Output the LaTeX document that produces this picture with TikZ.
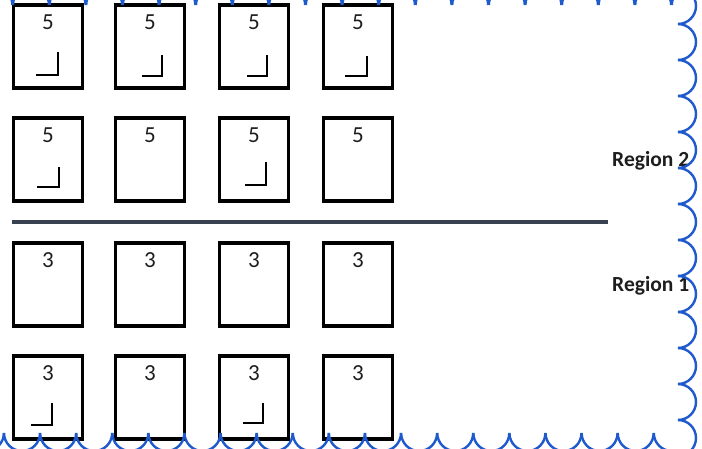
\documentclass[tikz,border=0pt]{standalone}
\usepackage{fontspec}
\setmainfont{Carlito}
\usetikzlibrary{calc}
\definecolor{scallopblue}{RGB}{30,90,205}
\definecolor{divider}{RGB}{55,65,80}
\definecolor{ink}{RGB}{30,30,30}
\begin{document}
\begin{tikzpicture}[x=1pt,y=-1pt,
  cell/.style={draw=black,line width=3.2pt,minimum width=69pt,minimum height=83pt,inner sep=0pt},
  num/.style={text=ink,font=\fontsize{23}{23}\selectfont,inner sep=0pt},
  lmark/.style={draw=black,line width=1.8pt},
  scallop/.style={draw=scallopblue,line width=2.4pt},
  dividerline/.style={draw=divider,line width=3.5pt},
  region/.style={text=ink,font=\bfseries\fontsize{21.5}{21.5}\selectfont,inner sep=0pt,anchor=base west}]

\clip (0,0) rectangle (702,449);
\fill[white] (0,0) rectangle (702,449);

% cells and numbers
\foreach \r/\y/\n in {1/46.5/5, 2/159.5/5, 3/284.5/3, 4/397.5/3}
  \foreach \c/\x in {1/48, 2/150, 3/254, 4/358} {
    \node[cell] (b\r\c) at (\x,\y) {};
    \node[num] (n\r\c) at ($(b\r\c.north)+(0,19)$) {\n};
  }

% corner marks
\draw[lmark] ($(b11.center)+(-12,28.5)$) -| ($(b11.center)+(10,5.5)$);
\draw[lmark] ($(b12.center)+(-8,29.5)$) -| ($(b12.center)+(12,8.5)$);
\draw[lmark] ($(b13.center)+(-7,29.5)$) -| ($(b13.center)+(13,8.5)$);
\draw[lmark] ($(b14.center)+(-13,29.5)$) -| ($(b14.center)+(9,9.5)$);
\draw[lmark] ($(b21.center)+(-11,27.5)$) -| ($(b21.center)+(11,7.5)$);
\draw[lmark] ($(b23.center)+(-9,25.5)$) -| ($(b23.center)+(12,2.5)$);
\draw[lmark] ($(b41.center)+(-17,27.5)$) -| ($(b41.center)+(4,5.5)$);
\draw[lmark] ($(b43.center)+(-11,25.5)$) -| ($(b43.center)+(9,5.5)$);

% divider
\coordinate (dl) at (12,222);
\coordinate (dr) at (608,222);
\draw[dividerline] (dl) -- (dr);

% region labels
\node[region] (r2) at (612,167) {Region 2};
\node[region] (r1) at (612,291) {Region 1};

% scalloped border
\foreach \k in {-1,...,12}
  \draw[scallop] (678,{24+36*\k}) arc[start angle=90,end angle=-90,radius=18pt];
\foreach \k in {-1,...,17}
  \draw[scallop] ({4+36.1*\k},433) arc[start angle=180,end angle=360,radius=18pt];
\draw[scallop] ({4+36.1*18},433) arc[start angle=180,end angle=270,radius=18pt];
\foreach \k in {-1,...,18}
  \draw[scallop] ({13+36.6*\k},5) arc[start angle=180,end angle=0,radius=18pt];
\end{tikzpicture}
\end{document}
